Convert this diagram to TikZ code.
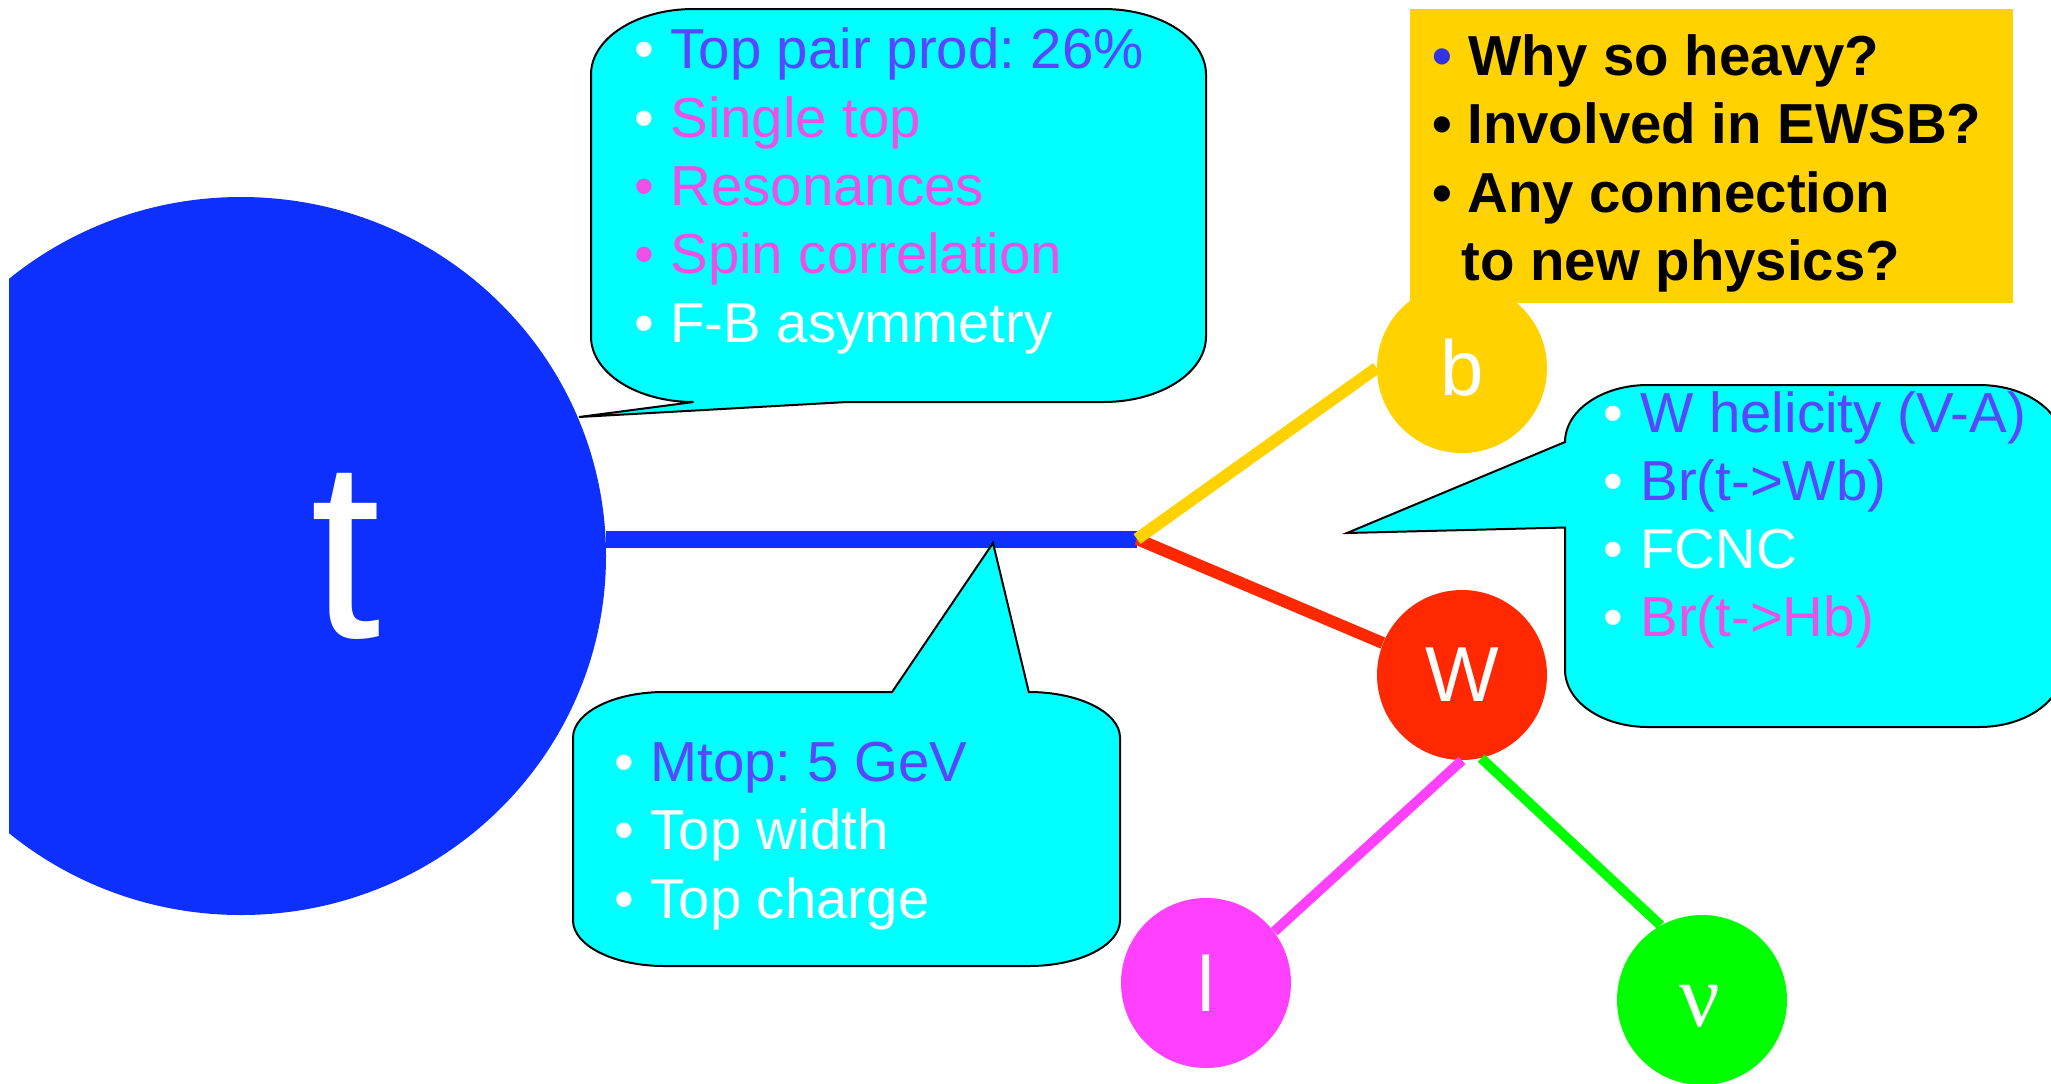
\documentclass[tikz,border=0pt]{standalone}
\usepackage{fontspec}
\setmainfont{Liberation Sans}
\newfontfamily\greekfont{Liberation Serif}
\usetikzlibrary{shapes.geometric}
\definecolor{tblue}{RGB}{14,48,255}
\definecolor{gold}{RGB}{255,210,0}
\definecolor{wred}{RGB}{255,40,0}
\definecolor{lmag}{RGB}{255,64,255}
\definecolor{nugreen}{RGB}{0,255,0}
\definecolor{cyanfill}{RGB}{0,255,255}
\definecolor{txtviolet}{RGB}{90,70,255}
\definecolor{txtmag}{RGB}{238,80,230}
\definecolor{qblue}{RGB}{50,50,230}
\frenchspacing
\begin{document}
\begin{tikzpicture}[x=0.5pt,y=-0.5pt,
  ball/.style={circle, inner sep=0pt, minimum size=85pt, text=white, font=\fontsize{39}{40}\selectfont},
  callout/.style={fill=cyanfill, draw=black, line width=1pt, line join=miter},
  ln/.style={inner sep=0pt, anchor=base west, font=\fontsize{28.2}{34}\selectfont},
  bu/.style={inner sep=0pt, anchor=base, font=\fontsize{28.2}{34}\selectfont},
  bln/.style={inner sep=0pt, anchor=base west, font=\fontsize{28.2}{34}\selectfont\bfseries},
  bbu/.style={inner sep=0pt, anchor=base, font=\fontsize{28.2}{34}\selectfont\bfseries},
  thick line/.style={line width=8.5pt, line cap=butt},
  mid line/.style={line width=6pt, line cap=butt},
  thin line/.style={line width=5pt, line cap=butt}
]
\useasboundingbox (0,0) rectangle (2051,1083);
\begin{scope}
\clip (9,0) rectangle (2051,1083);
% particles
\node[ellipse, fill=tblue, inner sep=0pt, minimum width=365pt, minimum height=359pt] (t) at (241,556) {};
\node[inner sep=0pt, text=white, font=\fontsize{127}{130}\selectfont] (tlabel) at (346,556) {t};
\node[ball, fill=gold] (b) at (1462,368) {b};
\node[ball, fill=wred] (W) at (1462,675) {W};
\node[ball, fill=lmag] (l) at (1206,983) {l};
\node[ball, fill=nugreen] (nu) at (1702,1000) {};
\node[inner sep=0pt, text=white, font=\greekfont\fontsize{45}{46}\selectfont] (nulabel) at (1700,1006) {ν};
% lines
\coordinate (J) at (1137,539);
\draw[thick line, tblue] (t.east |- J) -- (J);
\draw[mid line, wred] (J) -- (W.158);
\draw[mid line, gold] (J) -- (b.west);
\draw[thin line, lmag] (W.south) -- (l.37);
\draw[thin line, nugreen] (W.283) -- (nu.119);
% top callout
\path[callout] (693.5,9) -- (1103.5,9) .. controls (1160.1,9) and (1206,38.3) .. (1206,74.5)
  -- (1206,336.5) .. controls (1206,372.7) and (1160.1,402) .. (1103.5,402)
  -- (847,402) -- (579,417) -- (693.5,402)
  .. controls (636.9,402) and (591,372.7) .. (591,336.5)
  -- (591,74.5) .. controls (591,38.3) and (636.9,9) .. (693.5,9) -- cycle;
% bottom callout
\path[callout] (664.2,692) -- (892.1,692) -- (993,543) -- (1028.8,692)
  .. controls (1079.2,692) and (1120,712.5) .. (1120,737.7)
  -- (1120,920.3) .. controls (1120,945.5) and (1079.2,966) .. (1028.8,966)
  -- (664.2,966) .. controls (613.8,966) and (573,945.5) .. (573,920.3)
  -- (573,737.7) .. controls (573,712.5) and (613.8,692) .. (664.2,692) -- cycle;
% right callout
\path[callout] (1647.8,385) -- (1979.2,385) .. controls (2024.9,385) and (2062,410.5) .. (2062,442)
  -- (2062,670) .. controls (2062,701.5) and (2024.9,727) .. (1979.2,727)
  -- (1647.8,727) .. controls (1602.1,727) and (1565,701.5) .. (1565,670)
  -- (1565,527.5) -- (1347,533) -- (1565,442)
  .. controls (1565,410.5) and (1602.1,385) .. (1647.8,385) -- cycle;
% question box
\fill[gold] (1410,9) rectangle (2013,303);
% top callout text
\node[bu, text=white] (tb1) at (644,68) {•};
\node[ln, text=txtviolet] (tt1) at (670,68) {Top pair prod: 26\%};
\node[bu, text=white] (tb2) at (644,137) {•};
\node[ln, text=txtmag] (tt2) at (670,137) {Single top};
\node[bu, text=txtmag] (tb3) at (644,205) {•};
\node[ln, text=txtmag] (tt3) at (670,205) {Resonances};
\node[bu, text=txtmag] (tb4) at (644,273) {•};
\node[ln, text=txtmag] (tt4) at (670,273) {Spin correlation};
\node[bu, text=white] (tb5) at (644,342) {•};
\node[ln, text=white] (tt5) at (670,342) {F-B asymmetry};
% bottom callout text
\node[bu, text=white] (bb1) at (624,781) {•};
\node[ln, text=txtviolet] (bt1) at (650,781) {Mtop: 5 GeV};
\node[bu, text=white] (bb2) at (624,849) {•};
\node[ln, text=white] (bt2) at (650,849) {Top width};
\node[bu, text=white] (bb3) at (624,918) {•};
\node[ln, text=white] (bt3) at (650,918) {Top charge};
% right callout text
\node[bu, text=white] (rb1) at (1613,432) {•};
\node[ln, text=txtviolet] (rt1) at (1640,432) {W helicity (V-A)};
\node[bu, text=white] (rb2) at (1613,500) {•};
\node[ln, text=txtviolet] (rt2) at (1640,500) {Br(t->Wb)};
\node[bu, text=white] (rb3) at (1613,568) {•};
\node[ln, text=white] (rt3) at (1640,568) {FCNC};
\node[bu, text=white] (rb4) at (1613,636) {•};
\node[ln, text=txtmag] (rt4) at (1640,636) {Br(t->Hb)};
% question text
\node[bbu, text=qblue] (qb1) at (1442,75) {•};
\node[bln, text=black] (qt1) at (1468,75) {Why so heavy?};
\node[bbu, text=black] (qb2) at (1442,143) {•};
\node[bln, text=black] (qt2) at (1467,143) {Involved in EWSB?};
\node[bbu, text=black] (qb3) at (1442,212) {•};
\node[bln, text=black] (qt3) at (1467,212) {Any connection};
\node[bln, text=black] (qt4) at (1461,280) {to new physics?};
\end{scope}
\end{tikzpicture}
\end{document}
